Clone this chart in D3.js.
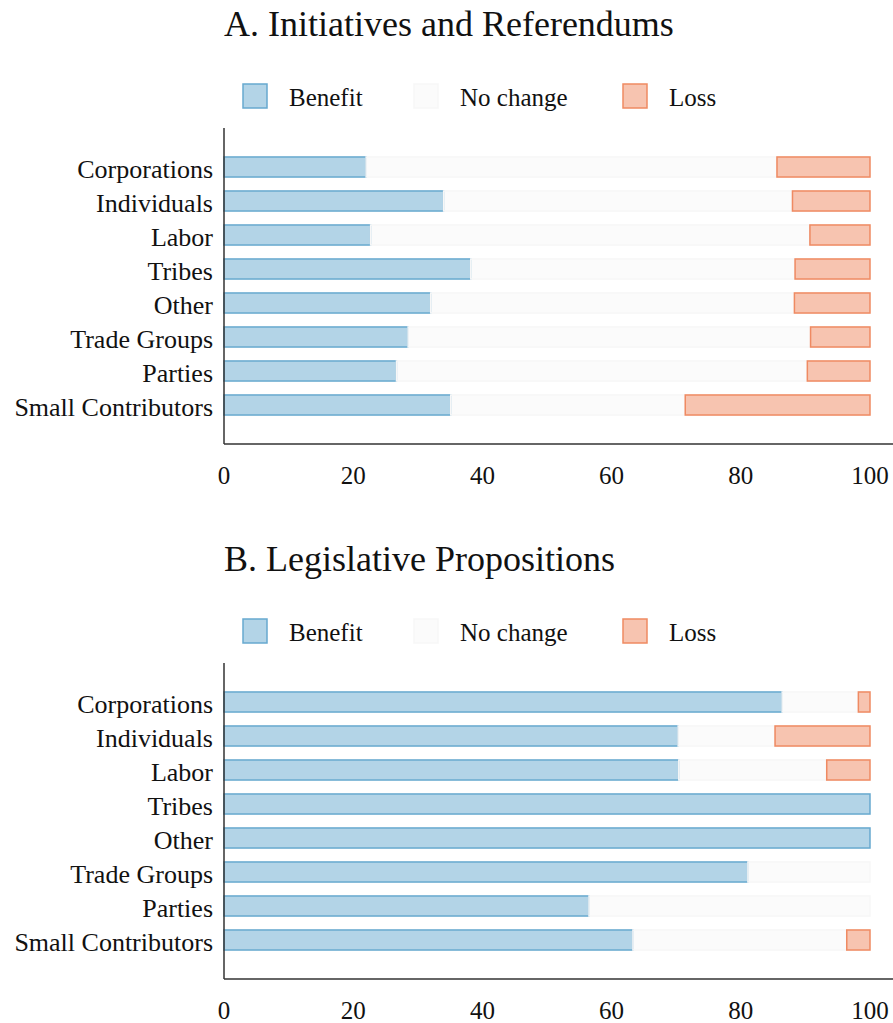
<!DOCTYPE html>
<html>
<head>
<meta charset="utf-8">
<script src="https://cdn.jsdelivr.net/npm/d3@7"></script>
<style>
  html, body { margin: 0; padding: 0; background: #fff; }
  svg text { font-family: "Liberation Serif", "Times New Roman", serif; fill: #111; }
</style>
</head>
<body>
<svg id="chart" width="893" height="1023"></svg>
<script>
const categories = ["Corporations", "Individuals", "Labor", "Tribes", "Other", "Trade Groups", "Parties", "Small Contributors"];
const seriesNames = ["Benefit", "No change", "Loss"];
const xTicks = [0, 20, 40, 60, 80, 100];

// Panel A: Initiatives and Referendums
const initBenefit  = [22.0, 34.0, 22.7, 38.2, 32.0, 28.5, 26.7, 35.1];
const initNoChange = [63.6, 54.0, 68.0, 50.2, 56.3, 62.3, 63.6, 36.3];
const initLoss     = [14.4, 12.0,  9.3, 11.6, 11.7,  9.2,  9.7, 28.6];

// Panel B: Legislative Propositions
const legBenefit  = [86.4, 70.3, 70.4, 100, 100, 81.1, 56.5, 63.3];
const legNoChange = [11.8, 15.0, 22.9,   0,   0, 18.9, 43.5, 33.1];
const legLoss     = [ 1.8, 14.7,  6.7,   0,   0,  0.0,  0.0,  3.6];

const panels = [
  { title: "A. Initiatives and Referendums", benefit: initBenefit, noChange: initNoChange, loss: initLoss, offset: 0 },
  { title: "B. Legislative Propositions", benefit: legBenefit, noChange: legNoChange, loss: legLoss, offset: 535 }
];

const colors = { "Benefit": "#67a9cf", "No change": "#f7f7f7", "Loss": "#ef8a62" };

const svg = d3.select("#chart");
const left = 224, right = 870;
const x = d3.scaleLinear().domain([0, 100]).range([left, right]);

panels.forEach(p => {
  const g = svg.append("g").attr("transform", `translate(0,${p.offset})`);
  const plotTop = 128, plotBottom = 444;

  g.append("text").attr("x", left).attr("y", 36)
    .attr("font-size", 36).text(p.title);

  // legend
  const legendX = [243, 414, 623];
  seriesNames.forEach((s, i) => {
    g.append("rect").attr("x", legendX[i]).attr("y", 84).attr("width", 24).attr("height", 24)
      .attr("fill", colors[s]).attr("fill-opacity", 0.5)
      .attr("stroke", colors[s]).attr("stroke-width", 1.5);
    g.append("text").attr("x", legendX[i] + 46).attr("y", 106)
      .attr("font-size", 25).text(s);
  });

  const y = d3.scaleBand().domain(categories).range([150, 422])
    .paddingInner(0.41).paddingOuter(0.205);

  const rows = categories.map((c, i) => ({ cat: c, "Benefit": p.benefit[i], "No change": p.noChange[i], "Loss": p.loss[i] }));
  const stacked = d3.stack().keys(seriesNames)(rows);

  stacked.forEach(layer => {
    g.append("g").selectAll("rect")
      .data(layer.filter(d => d[1] - d[0] > 0))
      .join("rect")
      .attr("x", d => x(d[0]))
      .attr("y", d => y(d.data.cat))
      .attr("width", d => x(d[1]) - x(d[0]))
      .attr("height", y.bandwidth())
      .attr("fill", colors[layer.key]).attr("fill-opacity", 0.5)
      .attr("stroke", colors[layer.key]).attr("stroke-width", 1.5);
  });

  // category labels
  g.append("g").selectAll("text").data(categories).join("text")
    .attr("x", 213).attr("y", d => y(d) + y.bandwidth() / 2)
    .attr("dy", "0.42em").attr("text-anchor", "end")
    .attr("font-size", 26).text(d => d);

  // axis lines
  g.append("line").attr("x1", left).attr("x2", left).attr("y1", plotTop).attr("y2", plotBottom)
    .attr("stroke", "#333").attr("stroke-width", 1.5);
  g.append("line").attr("x1", left).attr("x2", 893).attr("y1", plotBottom).attr("y2", plotBottom)
    .attr("stroke", "#333").attr("stroke-width", 1.5);

  // tick labels
  g.append("g").selectAll("text").data(xTicks).join("text")
    .attr("x", d => x(d)).attr("y", 484).attr("text-anchor", "middle")
    .attr("font-size", 25).text(d => d);
});
</script>
</body>
</html>
